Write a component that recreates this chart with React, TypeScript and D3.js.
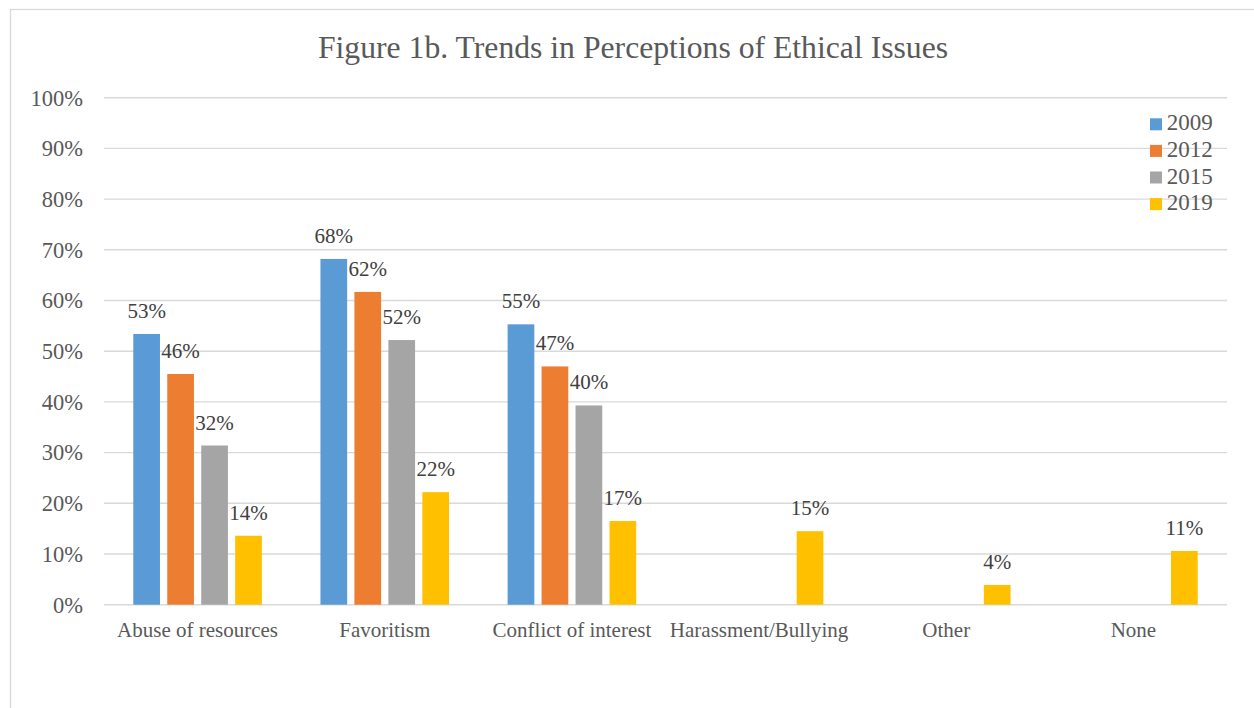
import React from "react";
import * as d3 from "d3";

const categories = ["Abuse of resources", "Favoritism", "Conflict of interest", "Harassment/Bullying", "Other", "None"];
const seriesNames = ["2009", "2012", "2015", "2019"];
const values2009: (number | null)[] = [53.4, 68.2, 55.3, null, null, null];
const values2012: (number | null)[] = [45.5, 61.7, 47.0, null, null, null];
const values2015: (number | null)[] = [31.4, 52.2, 39.3, null, null, null];
const values2019: (number | null)[] = [13.6, 22.2, 16.5, 14.5, 3.9, 10.6];
const labels2009 = ["53%", "68%", "55%", "", "", ""];
const labels2012 = ["46%", "62%", "47%", "", "", ""];
const labels2015 = ["32%", "52%", "40%", "", "", ""];
const labels2019 = ["14%", "22%", "17%", "15%", "4%", "11%"];
const yTicks = [0, 10, 20, 30, 40, 50, 60, 70, 80, 90, 100];
const colors = ["#5B9BD5", "#ED7D31", "#A5A5A5", "#FFC000"];

const W = 1254;
const H = 708;
const FONT = "Liberation Serif, Times New Roman, serif";
const TEXT = "#595959";

export default function App() {
  const allValues = [values2009, values2012, values2015, values2019];
  const allLabels = [labels2009, labels2012, labels2015, labels2019];
  const plotLeft = 104;
  const plotRight = 1227;
  const y = d3.scaleLinear().domain([0, 100]).range([604.7, 97.7]);
  const x0 = d3.scaleBand<string>().domain(categories).range([plotLeft, plotRight]);
  const groupW = 128.6;
  const x1 = d3
    .scaleBand<string>()
    .domain(seriesNames)
    .range([(x0.bandwidth() - groupW) / 2, (x0.bandwidth() + groupW) / 2])
    .paddingInner(0.214);

  const ts = (size: number, fill: string): React.CSSProperties => ({
    fontFamily: FONT,
    fontSize: size,
    fill,
  });

  return (
    <svg
      width={W}
      height={H}
      style={{ position: "absolute", left: 0, top: 0, background: "#fff" }}
    >
      <rect x={0} y={0} width={W} height={H} fill="#fff" />
      <rect x={10.5} y={9.5} width={W + 10} height={H + 10} fill="none" stroke="#d9d9d9" strokeWidth={1.3} />
      <text x={633} y={57.7} textAnchor="middle" style={ts(31.7, TEXT)}>
        Figure 1b. Trends in Perceptions of Ethical Issues
      </text>
      {yTicks.map((t) => (
        <g key={t}>
          <line x1={plotLeft} x2={plotRight} y1={y(t)} y2={y(t)} stroke="#d9d9d9" strokeWidth={1.4} />
          <text x={83} y={y(t)} dy="0.35em" textAnchor="end" style={ts(22.5, TEXT)}>
            {t}%
          </text>
        </g>
      ))}
      {categories.map((c, ci) => (
        <g key={c} transform={`translate(${x0(c)},0)`}>
          {seriesNames.map((s, si) => {
            const v = allValues[si][ci];
            if (v == null) return null;
            const bx = x1(s) as number;
            return (
              <g key={s}>
                <rect x={bx} y={y(v)} width={x1.bandwidth()} height={y(0) - y(v)} fill={colors[si]} />
                <text
                  x={bx + x1.bandwidth() / 2}
                  y={y(v) - 16}
                  textAnchor="middle"
                  style={ts(21, "#404040")}
                >
                  {allLabels[si][ci]}
                </text>
              </g>
            );
          })}
          <text x={x0.bandwidth() / 2} y={637} textAnchor="middle" style={ts(21, TEXT)}>
            {c}
          </text>
        </g>
      ))}
      {seriesNames.map((s, i) => (
        <g key={s} transform={`translate(1150, ${118.3 + i * 26.6})`}>
          <rect x={0} y={0} width={12} height={12} fill={colors[i]} />
          <text x={16.7} y={12} style={ts(23, TEXT)}>
            {s}
          </text>
        </g>
      ))}
    </svg>
  );
}
